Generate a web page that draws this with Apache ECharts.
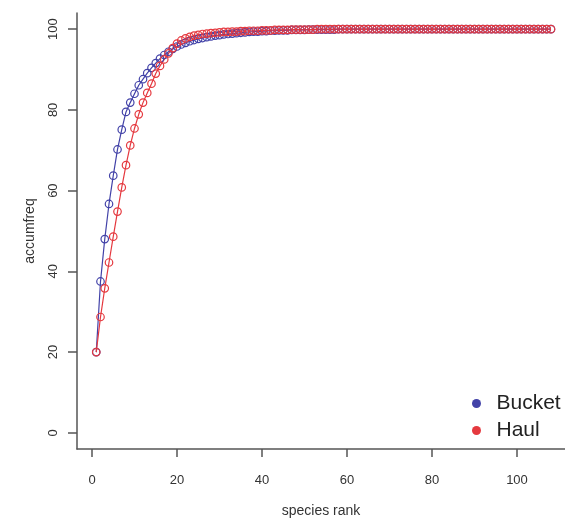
<!DOCTYPE html>
<html lang="en">

<head>
  <meta charset="UTF-8">
  <title>accumfreq</title>
  <script src="https://cdn.jsdelivr.net/npm/echarts@6/dist/echarts.min.js"></script>
  <style>
    html, body {
      margin: 0;
      padding: 0;
      background: #fff;
    }

    #chart {
      width: 565px;
      height: 523px;
    }
  </style>
</head>

<body>
  <div id="chart"></div>

  <script>
    // accumulated frequency per species rank
    var bucket = [
      20.0, 37.5, 48.0, 56.7, 63.7, 70.2, 75.1, 79.5, 81.8, 84.0,
      86.1, 87.6, 89.1, 90.4, 91.6, 92.7, 93.6, 94.4, 95.1, 95.7,
      96.2, 96.6, 97.0, 97.3, 97.6, 97.8, 98.0, 98.2, 98.4, 98.5,
      98.7, 98.8, 98.9, 99.0, 99.1, 99.2, 99.3, 99.4, 99.4, 99.5,
      99.5, 99.6, 99.6, 99.7, 99.7, 99.7, 99.8, 99.8, 99.8, 99.8,
      99.9, 99.9, 99.9, 99.9, 99.9, 99.9, 99.9, 100, 100, 100,
      100, 100, 100, 100, 100, 100, 100, 100, 100, 100,
      100, 100, 100, 100, 100, 100, 100, 100, 100, 100,
      100, 100, 100, 100, 100, 100, 100, 100, 100, 100,
      100, 100, 100, 100, 100, 100, 100, 100, 100, 100,
      100, 100, 100, 100, 100, 100, 100, 100
    ];
    var haul = [
      20.0, 28.7, 35.8, 42.2, 48.6, 54.8, 60.8, 66.3, 71.2, 75.4,
      78.9, 81.8, 84.2, 86.5, 89.0, 90.9, 92.5, 94.0, 95.3, 96.4,
      97.2, 97.7, 98.1, 98.4, 98.6, 98.8, 98.9, 99.0, 99.1, 99.2,
      99.3, 99.3, 99.4, 99.4, 99.5, 99.5, 99.6, 99.6, 99.6, 99.7,
      99.7, 99.7, 99.8, 99.8, 99.8, 99.8, 99.9, 99.9, 99.9, 99.9,
      99.9, 99.9, 100, 100, 100, 100, 100, 100, 100, 100,
      100, 100, 100, 100, 100, 100, 100, 100, 100, 100,
      100, 100, 100, 100, 100, 100, 100, 100, 100, 100,
      100, 100, 100, 100, 100, 100, 100, 100, 100, 100,
      100, 100, 100, 100, 100, 100, 100, 100, 100, 100,
      100, 100, 100, 100, 100, 100, 100, 100
    ];
    var xTicks = [0, 20, 40, 60, 80, 100];
    var yTicks = [0, 20, 40, 60, 80, 100];

    var blue = '#4242a8';
    var red = '#e5393f';
    var font = '"Liberation Sans", Arial, sans-serif';

    // rank = position in the list (1, 2, 3 ...)
    function toPoints(arr) {
      return arr.map(function (v, i) { return [i + 1, v]; });
    }

    var myChart = echarts.init(document.getElementById('chart'));
    var option = {
      animation: false,
      backgroundColor: '#fff',
      grid: { left: 77, right: 0, top: 13, bottom: 69 },
      legend: {
        orient: 'vertical',
        left: 467,
        top: 388,
        itemWidth: 30,
        itemHeight: 9,
        itemGap: 6,
        textStyle: { fontFamily: font, fontSize: 21, color: '#222' },
        data: [
          { name: 'Bucket', icon: 'circle', itemStyle: { color: blue, borderWidth: 0 } },
          { name: 'Haul', icon: 'circle', itemStyle: { color: red, borderWidth: 0 } }
        ]
      },
      xAxis: {
        type: 'value',
        min: -3.53,
        max: 111.3,
        name: 'species rank',
        nameLocation: 'middle',
        nameGap: 55,
        nameTextStyle: { fontFamily: font, fontSize: 14, color: '#333' },
        axisLine: { onZero: false, lineStyle: { color: '#555', width: 1.5 } },
        axisTick: { show: true, length: 8, customValues: xTicks, lineStyle: { color: '#555', width: 1.5 } },
        axisLabel: { customValues: xTicks, margin: 25, fontFamily: font, fontSize: 13, color: '#333' },
        splitLine: { show: false }
      },
      yAxis: {
        type: 'value',
        min: -4,
        max: 104,
        name: 'accumfreq',
        nameLocation: 'middle',
        nameRotate: 90,
        nameGap: 40,
        nameTextStyle: { fontFamily: font, fontSize: 14, color: '#333' },
        axisLine: { show: true, onZero: false, lineStyle: { color: '#555', width: 1.5 } },
        axisTick: { show: true, length: 9, customValues: yTicks, lineStyle: { color: '#555', width: 1.5 } },
        axisLabel: { customValues: yTicks, rotate: 90, margin: 17, fontFamily: font, fontSize: 13, color: '#333' },
        splitLine: { show: false }
      },
      series: [
        {
          name: 'Bucket',
          type: 'line',
          data: toPoints(bucket),
          symbol: 'circle',
          symbolSize: 7.5,
          itemStyle: { color: 'rgba(0,0,0,0)', borderColor: blue, borderWidth: 1.2 },
          lineStyle: { color: blue, width: 1.2 }
        },
        {
          name: 'Haul',
          type: 'line',
          data: toPoints(haul),
          symbol: 'circle',
          symbolSize: 7.5,
          itemStyle: { color: 'rgba(0,0,0,0)', borderColor: red, borderWidth: 1.2 },
          lineStyle: { color: red, width: 1.2 }
        }
      ]
    };

    option && myChart.setOption(option);
  </script>
</body>

</html>
